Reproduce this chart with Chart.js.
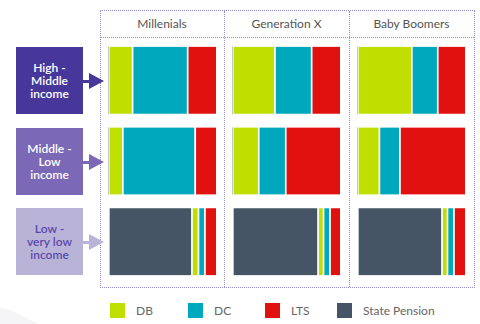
<!DOCTYPE html>
<html>
<head>
<meta charset="utf-8">
<script src="https://cdn.jsdelivr.net/npm/chart.js@4"></script>
<style>
    html, body { margin: 0; padding: 0; background: #fff; }
    body { width: 480px; height: 324px; position: relative; overflow: hidden; font-family: Lato, "Open Sans", sans-serif; }
    .swoosh { position: absolute; left: 0; top: 300px; width: 60px; height: 24px; background: #f5f5f7;
              clip-path: polygon(0 30%, 20% 45%, 65% 100%, 0 100%); }
    .frame { position: absolute; border: 1px dotted #958dd3; box-sizing: border-box; }
    .hline { position: absolute; height: 0; border-top: 1px dotted #958dd3; }
    .vline { position: absolute; width: 0; border-left: 1px dotted #958dd3; }
    .head { position: absolute; top: 10px; height: 27px; line-height: 28px; text-align: center;
            font-size: 12px; color: #555; }
    .box { position: absolute; left: 16px; width: 67px; height: 67px; display: flex; align-items: center;
           justify-content: center; text-align: center; font-size: 12px; line-height: 13px; font-weight: 600; }
    .arrow { position: absolute; left: 83px; width: 21px; height: 16px; }
    .arrow .stem { position: absolute; left: 0; top: 7px; width: 7px; height: 2.5px; }
    .arrow .tip { position: absolute; left: 6px; top: 0; width: 0; height: 0;
                  border-top: 8px solid transparent; border-bottom: 8px solid transparent; border-left: 15px solid; }
    .cell { position: absolute; top: 40px; height: 242px; width: 108px; }
    .legend { position: absolute; top: 303px; height: 15px; }
    .legend span.sw { position: absolute; left: 0; top: 0; width: 15px; height: 15px; }
    .legend span.tx { position: absolute; left: 26px; top: 0; line-height: 15px; font-size: 12px; color: #666; white-space: nowrap; }
</style>
</head>
<body>
<div class="swoosh"></div>

<div class="frame" style="left:100px; top:10px; width:375px; height:278px;"></div>
<div class="hline" style="left:101px; top:37px; width:373px;"></div>
<div class="vline" style="left:224px; top:11px; height:276px;"></div>
<div class="vline" style="left:349px; top:11px; height:276px;"></div>

<div id="heads"></div>
<div id="boxes"></div>

<div class="cell"><canvas id="col0"></canvas></div>
<div class="cell"><canvas id="col1"></canvas></div>
<div class="cell"><canvas id="col2"></canvas></div>

<div id="legend"></div>

<script>
const generations = ['Millenials', 'Generation X', 'Baby Boomers'];
const incomeGroups = [['High -', 'Middle', 'income'], ['Middle -', 'Low', 'income'], ['Low -', 'very low', 'income']];
const seriesNames = ['DB', 'DC', 'LTS', 'State Pension'];

// share of retirement income, [generation][income group]
const dbValues    = [[22, 13, 6], [39, 24, 5], [50, 20, 5]];
const dcValues    = [[51, 67, 6], [34, 25, 6], [24, 19, 6]];
const ltsValues   = [[27, 20, 11], [27, 51, 10], [26, 61, 11]];
const stateValues = [[0, 0, 77], [0, 0, 79], [0, 0, 78]];

const seriesColors = ['#bedf00', '#00a8bd', '#e1110f', '#455565'];
const boxColors = ['#47379b', '#7b69b7', '#bab3d8'];
const boxText = ['#fff', '#fff', '#5b4aa8'];

const colLeft = [100, 224, 349];
const colWidth = [124, 125, 125];
const cellLeft = [108, 232, 357];
const rowTop = [47, 128, 208];
const legendLeft = [110, 188, 265, 337];

// headers
const heads = document.getElementById('heads');
generations.forEach(function (g, i) {
    const d = document.createElement('div');
    d.className = 'head';
    d.style.left = colLeft[i] + 'px';
    d.style.width = colWidth[i] + 'px';
    d.textContent = g;
    heads.appendChild(d);
});

// income boxes + arrows
const boxes = document.getElementById('boxes');
incomeGroups.forEach(function (lines, i) {
    const b = document.createElement('div');
    b.className = 'box';
    b.style.top = rowTop[i] + 'px';
    b.style.background = boxColors[i];
    b.style.color = boxText[i];
    b.innerHTML = lines.join('<br>');
    boxes.appendChild(b);

    const a = document.createElement('div');
    a.className = 'arrow';
    a.style.top = (rowTop[i] + 26) + 'px';
    a.innerHTML = '<div class="stem" style="background:' + boxColors[i] + '"></div>' +
                  '<div class="tip" style="border-left-color:' + boxColors[i] + '"></div>';
    boxes.appendChild(a);
});

// one stacked bar chart per generation
document.querySelectorAll('.cell').forEach(function (el, i) { el.style.left = cellLeft[i] + 'px'; });

function makeSet(label, values, color) {
    return {
        label: label,
        data: values,
        backgroundColor: color,
        borderColor: '#ffffff',
        borderWidth: { left: 2, right: 0, top: 0, bottom: 0 },
        borderSkipped: false,
        barThickness: 67
    };
}

generations.forEach(function (g, i) {
    new Chart(document.getElementById('col' + i).getContext('2d'), {
        type: 'bar',
        data: {
            labels: incomeGroups.map(function (l) { return l.join(' '); }),
            datasets: [
                makeSet(seriesNames[3], stateValues[i], seriesColors[3]),
                makeSet(seriesNames[0], dbValues[i], seriesColors[0]),
                makeSet(seriesNames[1], dcValues[i], seriesColors[1]),
                makeSet(seriesNames[2], ltsValues[i], seriesColors[2])
            ]
        },
        options: {
            indexAxis: 'y',
            responsive: true,
            maintainAspectRatio: false,
            animation: false,
            layout: { padding: 0 },
            scales: {
                x: { stacked: true, min: 0, max: 100, display: false },
                y: { stacked: true, display: false }
            },
            plugins: { legend: { display: false }, tooltip: { enabled: false } }
        }
    });
});

// legend
const legend = document.getElementById('legend');
seriesNames.forEach(function (name, i) {
    const item = document.createElement('div');
    item.className = 'legend';
    item.style.left = legendLeft[i] + 'px';
    item.innerHTML = '<span class="sw" style="background:' + seriesColors[i] + '"></span><span class="tx">' + name + '</span>';
    legend.appendChild(item);
});
</script>
</body>
</html>
